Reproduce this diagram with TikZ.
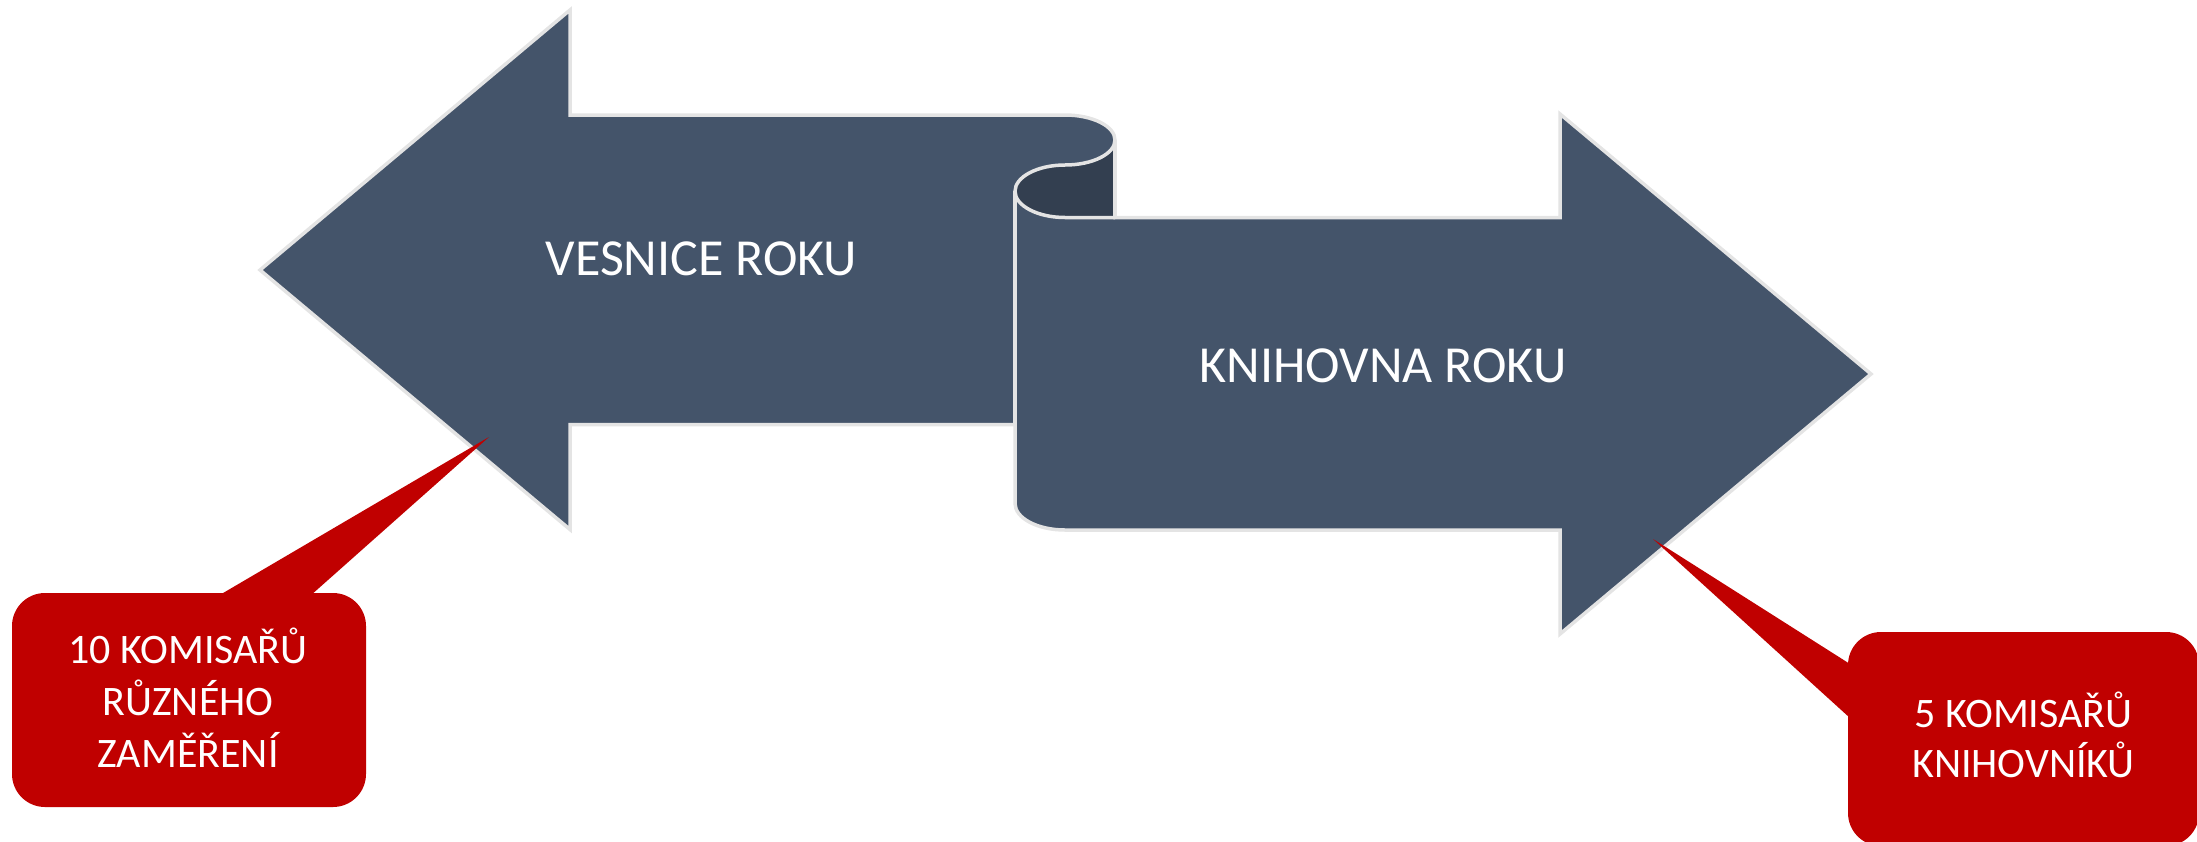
\documentclass[tikz,border=0pt]{standalone}
\usepackage{fontspec}
\setmainfont{Carlito}
\definecolor{arrowfill}{HTML}{44546A}
\definecolor{curlfill}{HTML}{333F50}
\definecolor{edgegray}{HTML}{E4E4E4}
\definecolor{callred}{HTML}{C00000}
\begin{document}
\begin{tikzpicture}[x=1pt,y=-1pt,
  ribbon/.style={fill=arrowfill, draw=edgegray, line width=3.5pt, line join=miter},
  curlline/.style={draw=edgegray, line width=3.5pt},
  calloutbox/.style={fill=callred, draw=none, rounded corners=33pt, inner sep=0pt},
  pointer/.style={fill=callred, draw=none},
  bigtext/.style={text=white, font=\fontsize{52}{60}\selectfont, anchor=base, inner sep=0pt},
  smalltext/.style={text=white, font=\fontsize{42}{52}\selectfont, anchor=base, inner sep=0pt}]
\useasboundingbox (0,0) rectangle (2197,841);
\clip (0,0) rectangle (2197,841);
% ribbon outline
\path[ribbon] (260,270) -- (570,10) -- (570,115) -- (1065,115)
  .. controls (1092.6,115) and (1115,126.2) .. (1115,140)
  -- (1115,217.5) -- (1560,217.5) -- (1560,114) -- (1871,374)
  -- (1560,634) -- (1560,530) -- (1065,530)
  .. controls (1037.4,530) and (1015,518.1) .. (1015,503.5)
  -- (1015,424.5) -- (570,424.5) -- (570,529.5) -- cycle;
% dark curl
\fill[curlfill] (1115,140) .. controls (1115,153.8) and (1092.6,165) .. (1065,165)
  .. controls (1037.4,165) and (1015,176.9) .. (1015,191.25)
  .. controls (1015,205.6) and (1037.4,217.5) .. (1065,217.5)
  -- (1115,217.5) -- cycle;
\draw[curlline] (1115,140) .. controls (1115,153.8) and (1092.6,165) .. (1065,165)
  .. controls (1037.4,165) and (1015,176.9) .. (1015,191.25)
  .. controls (1015,205.6) and (1037.4,217.5) .. (1065,217.5)
  -- (1115,217.5);
\draw[curlline] (1015,191.25) -- (1015,424.5);
\draw[curlline] (1115,140) -- (1115,217.5);
% texts on arrows
\node[bigtext] (vesnice) at (701.5,275) {VESNICE ROKU};
\node[bigtext] (knihovna) at (1383,382) {KNIHOVNA ROKU};
% left callout
\node[calloutbox, minimum width=354pt, minimum height=214pt] (leftbox) at (189,700) {};
\coordinate (lefttip) at (489,437);
\fill[pointer] (218,596) -- (lefttip) -- (310,596) -- cycle;
\node[smalltext] (l1) at (188,663) {10 KOMISAŘŮ};
\node[smalltext] (l2) at (188,715) {RŮZNÉHO};
\node[smalltext] (l3) at (188,767) {ZAMĚŘENÍ};
% right callout
\node[calloutbox, minimum width=351pt, minimum height=214pt] (rightbox) at (2023.5,739) {};
\coordinate (righttip) at (1653,539);
\fill[pointer] (1850,664) -- (righttip) -- (1850,718) -- cycle;
\node[smalltext] (r1) at (2023.5,727) {5 KOMISAŘŮ};
\node[smalltext] (r2) at (2023.5,777) {KNIHOVNÍKŮ};
\end{tikzpicture}
\end{document}
